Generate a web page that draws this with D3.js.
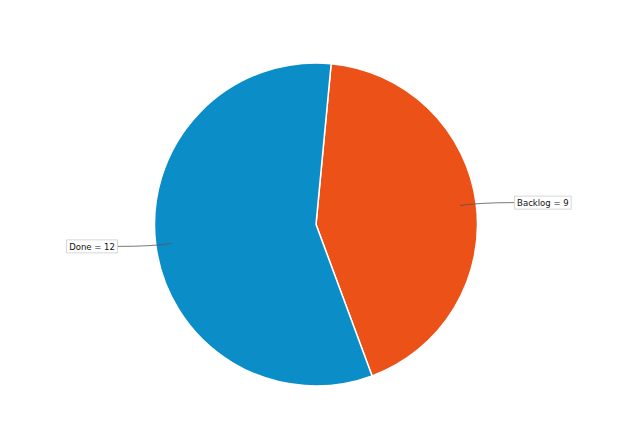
<!DOCTYPE html>
<html>
<head>
<meta charset="utf-8">
<script src="https://cdn.jsdelivr.net/npm/d3@7"></script>
<style>
  body { margin: 0; background: #fff; }
  text { font-family: "DejaVu Sans", sans-serif; font-size: 8.5px; fill: #111; }
</style>
</head>
<body>
<div id="chart"></div>
<script>
const categories = ["Backlog", "Done"];
const values = [9, 12];
const colors = ["#ec5217", "#0b8dc8"];

const width = 635, height = 431;
const cx = 316, cy = 224.5, radius = 161.5;
const startAngle = 0.094;

const svg = d3.select("#chart").append("svg")
    .attr("width", width)
    .attr("height", height);

const data = categories.map((c, i) => ({name: c, value: values[i], color: colors[i]}));

const pie = d3.pie()
    .sort(null)
    .value(d => d.value)
    .startAngle(startAngle)
    .endAngle(startAngle + 2 * Math.PI);

const arcs = pie(data);

const arc = d3.arc().innerRadius(0).outerRadius(radius);
const g = svg.append("g").attr("transform", `translate(${cx},${cy})`);

g.selectAll("path.slice")
    .data(arcs)
    .enter()
    .append("path")
    .attr("class", "slice")
    .attr("d", arc)
    .style("fill", d => d.data.color)
    .style("stroke", "#fff")
    .style("stroke-width", 1.5);

// labels with leader lines
const inner = d3.arc().innerRadius(radius * 0.9).outerRadius(radius * 0.9);
const labelGap = 54;

arcs.forEach(d => {
    const p = inner.centroid(d);
    const right = p[0] > 0;
    const ex = p[0] + (right ? labelGap : -labelGap);
    const ey = p[1] + (right ? -3 : 3);
    const mx = p[0] + (right ? labelGap * 0.35 : -labelGap * 0.35);
    g.append("path")
        .attr("d", `M${p[0]},${p[1]} Q${mx},${ey} ${ex},${ey}`)
        .style("fill", "none")
        .style("stroke", "#555")
        .style("stroke-width", 0.8);

    const lbl = g.append("g");
    const t = lbl.append("text")
        .attr("x", right ? ex + 3 : ex - 3)
        .attr("y", ey + 3.2)
        .attr("text-anchor", right ? "start" : "end")
        .text(`${d.data.name} = ${d.data.value}`);
    const bb = t.node().getBBox();
    lbl.insert("rect", "text")
        .attr("x", bb.x - 2.5)
        .attr("y", ey - 6.5)
        .attr("width", bb.width + 5)
        .attr("height", 13)
        .style("fill", "#fff")
        .style("stroke", "#ccc")
        .style("stroke-width", 0.8);
});
</script>
</body>
</html>
